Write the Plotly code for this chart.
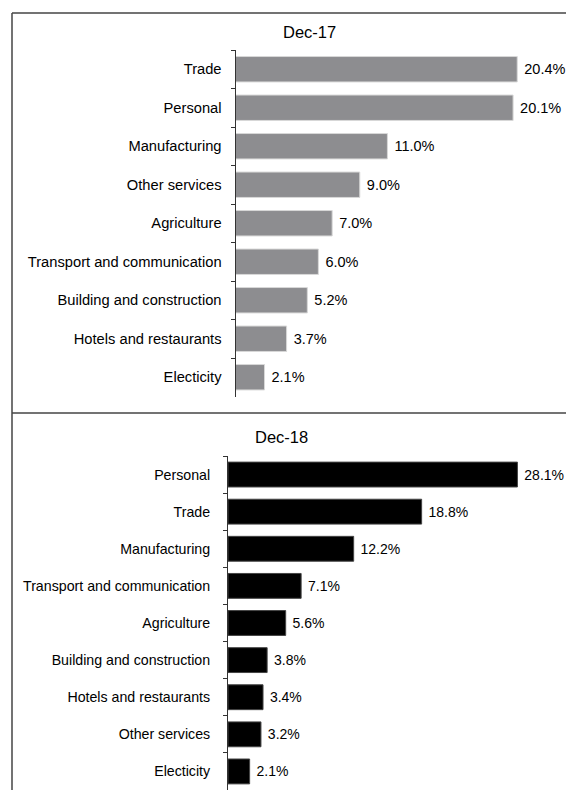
import plotly.graph_objects as go

cats_17 = ["Trade", "Personal", "Manufacturing", "Other services", "Agriculture",
           "Transport and communication", "Building and construction",
           "Hotels and restaurants", "Electicity"]
vals_17 = [20.4, 20.1, 11.0, 9.0, 7.0, 6.0, 5.2, 3.7, 2.1]

cats_18 = ["Personal", "Trade", "Manufacturing", "Transport and communication",
           "Agriculture", "Building and construction", "Hotels and restaurants",
           "Other services", "Electicity"]
vals_18 = [28.1, 18.8, 12.2, 7.1, 5.6, 3.8, 3.4, 3.2, 2.1]

# The page body has an 8px margin, so the figure is sized to fit the window exactly
OFF = 8
W, H = 574 - 2 * OFF, 798 - 2 * OFF
FONT = "Liberation Sans, Arial, sans-serif"

def py(y):
    return 1 - (y - OFF) / H

def px(x):
    return (x - OFF) / W

RIGHT = OFF + W

fig = go.Figure()
fig.add_trace(go.Bar(
    x=vals_17, y=cats_17, orientation="h", xaxis="x", yaxis="y",
    marker=dict(color="#8d8d90", line=dict(color="#d8d8d8", width=1)),
    width=0.66,
    text=["\u00a0" + f"{v:.1f}%" for v in vals_17], textposition="outside",
    textfont=dict(family=FONT, size=14.5, color="#000"),
    cliponaxis=False, showlegend=False,
))
fig.add_trace(go.Bar(
    x=vals_18, y=cats_18, orientation="h", xaxis="x2", yaxis="y2",
    marker=dict(color="#000000", line=dict(color="#444444", width=1)),
    width=0.67,
    text=["\u00a0" + f"{v:.1f}%" for v in vals_18], textposition="outside",
    textfont=dict(family=FONT, size=14, color="#000"),
    cliponaxis=False, showlegend=False,
))

ax_common = dict(showgrid=False, zeroline=False, showticklabels=False,
                 showline=False, ticks="", fixedrange=True)

fig.update_layout(
    width=W, height=H, margin=dict(l=0, r=0, t=0, b=0),
    paper_bgcolor="white", plot_bgcolor="white",
    font=dict(family=FONT, color="#000"),
    xaxis=dict(domain=[px(235.5), 1], range=[0, (RIGHT - 235.5) / 13.81], anchor="y", **ax_common),
    yaxis=dict(domain=[py(396.5), py(50)], range=[8.5, -0.5], type="category",
               anchor="x", showline=True, linecolor="#333333", linewidth=1,
               ticks="outside", ticklen=4, tickcolor="#333333", tickson="boundaries",
               showgrid=False, zeroline=False, ticklabelstandoff=10,
               tickfont=dict(family=FONT, size=14.7, color="#000")),
    xaxis2=dict(domain=[px(228), 1], range=[0, (RIGHT - 228) / 10.3], anchor="y2", **ax_common),
    yaxis2=dict(domain=[py(790), py(456)], range=[8.5, -0.5], type="category",
                anchor="x2", showline=True, linecolor="#333333", linewidth=1,
                ticks="outside", ticklen=4, tickcolor="#333333", tickson="boundaries",
                showgrid=False, zeroline=False, ticklabelstandoff=14,
                tickfont=dict(family=FONT, size=14.2, color="#000")),
    shapes=[
        dict(type="line", xref="paper", yref="paper", x0=px(12), x1=1, y0=py(13), y1=py(13),
             line=dict(color="#444444", width=1.5)),
        dict(type="line", xref="paper", yref="paper", x0=px(12), x1=px(12), y0=py(13), y1=0,
             line=dict(color="#444444", width=1.5)),
        dict(type="line", xref="paper", yref="paper", x0=px(12), x1=1, y0=py(413), y1=py(413),
             line=dict(color="#444444", width=1.5)),
    ],
    annotations=[
        dict(text="Dec-17", xref="paper", yref="paper", x=px(309), y=py(32),
             showarrow=False, xanchor="center", yanchor="middle",
             font=dict(family=FONT, size=16.5, color="#000")),
        dict(text="Dec-18", xref="paper", yref="paper", x=px(281), y=py(437),
             showarrow=False, xanchor="center", yanchor="middle",
             font=dict(family=FONT, size=16.5, color="#000")),
    ],
)

fig.write_html("out.html")
